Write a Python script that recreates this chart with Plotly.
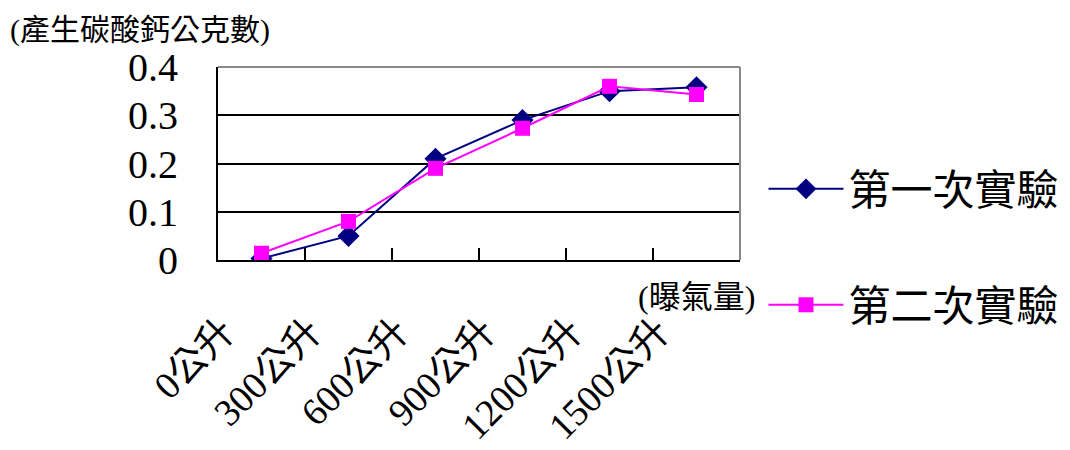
import plotly.graph_objects as go

categories = ["0公升", "300公升", "600公升", "900公升", "1200公升", "1500公升"]
series1_name = "第一次實驗"
series1 = [0.003, 0.05, 0.21, 0.29, 0.35, 0.358]
series2_name = "第二次實驗"
series2 = [0.014, 0.08, 0.19, 0.273, 0.36, 0.343]
y_ticks = [0, 0.1, 0.2, 0.3, 0.4]
y_ticktext = ["0", "0.1", "0.2", "0.3", "0.4"]
y_title = "(產生碳酸鈣公克數)"
x_title = "(曝氣量)"

FONT = "'Liberation Serif', 'Noto Sans CJK TC', serif"

fig = go.Figure()
fig.add_trace(go.Scatter(
    x=categories, y=series1, name=series1_name, mode="lines+markers",
    line=dict(color="#000080", width=2),
    marker=dict(symbol="diamond", size=17, color="#000080"),
    legend="legend",
))
fig.add_trace(go.Scatter(
    x=categories, y=series2, name=series2_name, mode="lines+markers",
    line=dict(color="#ff00ff", width=2),
    marker=dict(symbol="square", size=15, color="#ff00ff"),
    legend="legend2",
))

leg_common = dict(
    x=1.045, xanchor="left", yanchor="middle",
    font=dict(size=42, family=FONT),
    itemwidth=75,
    bgcolor="rgba(0,0,0,0)",
)

fig.update_layout(
    width=1070, height=450,
    margin=dict(l=218, r=330, t=67, b=190, autoexpand=False),
    paper_bgcolor="white", plot_bgcolor="white",
    font=dict(family=FONT, color="black"),
    showlegend=True,
    legend=dict(y=(260 - 189) / 193, **leg_common),
    legend2=dict(y=(260 - 305) / 193, **leg_common),
    xaxis=dict(
        type="category", range=[-0.5, 5.5],
        automargin=False,
        showgrid=False, zeroline=False,
        showline=True, linecolor="black", linewidth=2,
        ticks="inside", ticklen=12, tickwidth=2, tickcolor="black",
        tickson="boundaries",
        tickangle=-45,
        tickfont=dict(size=38, family=FONT),
        ticklabelstandoff=32,
        ticklabelshift=-38,
    ),
    yaxis=dict(
        range=[0, 0.4], tickvals=y_ticks, ticktext=y_ticktext,
        automargin=False,
        showgrid=True, gridcolor="black", gridwidth=2,
        zeroline=False,
        showline=True, linecolor="black", linewidth=2,
        ticks="inside", ticklen=14, tickwidth=2, tickcolor="black",
        tickfont=dict(size=40, family=FONT),
        ticklabelstandoff=30,
    ),
    shapes=[
        dict(type="line", xref="paper", yref="paper", x0=0, x1=1, y0=1, y1=1,
             line=dict(color="#888888", width=2)),
        dict(type="line", xref="paper", yref="paper", x0=1, x1=1, y0=0, y1=1,
             line=dict(color="#888888", width=2)),
    ],
    annotations=[
        dict(text=y_title, xref="paper", yref="paper", x=-210/522, y=(260-30)/193,
             xanchor="left", yanchor="middle", showarrow=False,
             font=dict(size=30, family=FONT)),
        dict(text=x_title, xref="paper", yref="paper", x=(757-218)/522, y=-(297-260)/193,
             xanchor="right", yanchor="middle", showarrow=False,
             font=dict(size=32, family=FONT)),
    ],
)

fig.write_html("out.html")
